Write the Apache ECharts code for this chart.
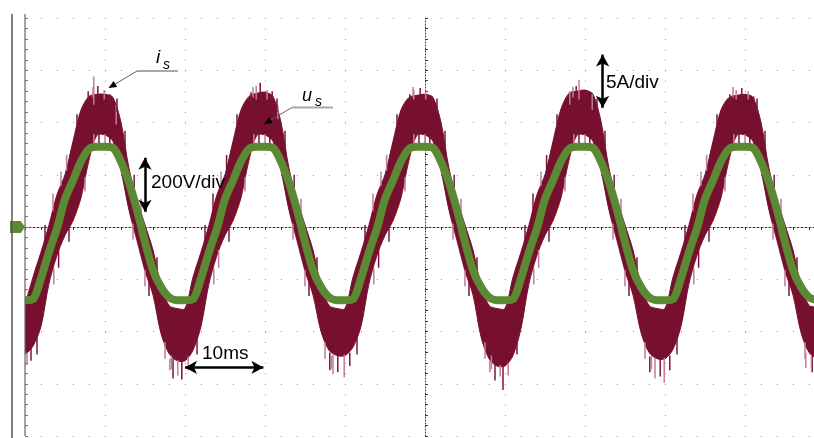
<!DOCTYPE html>
<html><head><meta charset="utf-8">
<script src="https://cdn.jsdelivr.net/npm/echarts@6/dist/echarts.min.js"></script>
<style>html,body{margin:0;padding:0;background:#fff}#c{width:814px;height:438px}</style>
</head><body><div id="c"></div>
<script>
// time of first sample (ms, relative to screen centre) and sample step
const timeStartMs = -50;
const sampleStepMs = 1;

// grid voltage u_s (V), one sample per ms
const voltageV = [
  -280,-276,-196,-96,-4,107,178,251,299,307,307,303,250,169,65,-58,-165,-230,-269,-280,
  -280,-276,-196,-96,-4,107,178,251,299,307,307,303,250,169,65,-58,-165,-230,-269,-280,
  -280,-276,-196,-96,-4,107,178,251,299,307,307,303,250,169,65,-58,-165,-230,-269,-280,
  -280,-276,-196,-96,-4,107,178,251,299,307,307,303,250,169,65,-58,-165,-230,-269,-280,
  -280,-276,-196,-96,-4,107,178,251,299,307,307,303,250,169,65,-58,-165,-230,-269,-280
];

// current i_s ripple band: upper and lower envelope (A), one sample per ms
const currentUpperA = [
  -7.8,-4.8,-2.4,0.2,3.1,5.0,8.2,11.2,12.5,12.7,12.7,12.4,10.0,5.6,2.6,0.2,-2.2,-5.6,-7.5,-7.8,
  -7.8,-4.8,-2.4,0.2,3.1,5.0,8.2,11.2,12.5,12.8,12.9,12.5,10.0,5.6,2.6,0.2,-2.2,-5.6,-7.5,-7.8,
  -7.8,-4.8,-2.4,0.2,3.1,5.0,8.2,11.2,12.4,12.6,12.7,12.4,10.0,5.6,2.6,0.2,-2.2,-5.6,-7.5,-7.8,
  -7.8,-4.8,-2.4,0.2,3.1,5.0,8.2,11.3,12.8,13.0,13.1,12.7,10.1,5.6,2.6,0.2,-2.2,-5.6,-7.5,-7.8,
  -7.8,-4.8,-2.4,0.2,3.1,5.0,8.2,11.2,12.4,12.6,12.7,12.4,10.0,5.6,2.6,0.2,-2.2,-5.6,-7.5,-7.8
];
const currentLowerA = [
  -12.1,-11.4,-9.5,-5.4,-2.7,-0.8,0.6,2.8,6.4,8.8,8.8,8.2,5.4,1.6,-1.3,-4.2,-6.5,-10.2,-12.1,-12.8,
  -12.8,-11.8,-9.5,-5.4,-2.7,-0.8,0.6,2.8,6.4,8.8,8.8,8.2,5.4,1.6,-1.3,-4.2,-6.5,-10.0,-11.8,-12.3,
  -12.3,-11.5,-9.5,-5.4,-2.7,-0.8,0.6,2.8,6.4,8.8,8.8,8.2,5.4,1.6,-1.3,-4.2,-6.5,-10.5,-12.6,-13.3,
  -13.3,-12.3,-9.7,-5.4,-2.7,-0.8,0.6,2.8,6.4,8.8,8.8,8.2,5.4,1.6,-1.3,-4.2,-6.5,-10.1,-12.0,-12.6,
  -12.6,-11.7,-9.5,-5.4,-2.7,-0.8,0.6,2.8,6.4,8.8,8.8,8.2,5.4,1.6,-1.3,-4.2,-6.5,-10.1,-12.0,-12.5
];

// individual ripple spikes of i_s: [time ms, from A, to A]
const currentSpikesA = [
  [-42.1,11.2,13.0],[-41.4,11.7,14.4],[-40.9,12.2,13.5],[-40.1,12.2,13.1],[-39.4,11.2,12.7],[-38.6,9.8,11.7],
  [-21.75,11.7,12.9],[-21.1,12.2,13.5],[-20.6,12.2,13.8],[-19.75,12.2,13.1],[-19.1,11.7,13.0],[-18.4,10.3,11.7],
  [-1.9,11.2,12.7],[-1.4,12.2,13.1],[-0.6,12.2,13.3],[0.1,12.2,13.0],[0.9,11.2,12.5],
  [18.1,11.7,13.0],[18.9,12.2,13.5],[19.25,12.2,14.1],[20.1,12.2,13.1],[20.9,11.2,12.7],
  [38.1,11.2,12.7],[38.9,12.2,13.1],[39.6,12.2,13.3],[40.4,12.2,13.0],[41.1,11.2,12.5],
  [-41.4,8.9,7.7],[-40.75,8.9,7.4],[-40.0,8.9,7.8],[-39.4,8.6,7.9],
  [-21.4,8.9,7.7],[-20.75,8.9,7.4],[-20.0,8.9,7.8],[-19.4,8.6,7.9],
  [-1.4,8.9,7.7],[-0.75,8.9,7.4],[0.0,8.9,7.8],[0.6,8.6,7.9],
  [18.6,8.9,7.7],[19.25,8.9,7.4],[20.0,8.9,7.8],[20.6,8.6,7.9],
  [38.6,8.9,7.7],[39.25,8.9,7.4],[40.0,8.9,7.8],[40.6,8.6,7.9],
  [-49.75,-12.0,-13.2],[-49.25,-11.6,-12.8],
  [-31.9,-12.6,-13.7],[-31.5,-12.6,-14.5],[-30.9,-12.7,-14.2],[-30.4,-12.7,-14.6],[-29.6,-12.4,-13.7],
  [-11.9,-12.0,-13.7],[-11.5,-12.2,-14.1],[-10.9,-12.2,-13.9],[-10.1,-12.2,-14.4],[-9.4,-12.0,-13.3],
  [8.1,-12.8,-13.9],[8.75,-13.1,-14.7],[9.4,-13.2,-14.3],[9.75,-13.2,-15.6],[10.4,-13.0,-14.2],
  [28.1,-12.4,-13.9],[28.75,-12.5,-14.5],[29.4,-12.5,-14.3],[29.9,-12.5,-14.9],[30.6,-12.3,-13.7],
  [47.6,-12.0,-13.5],[48.4,-12.3,-13.9],
  [-46.5,1.5,3.2],[-45.8,-2.2,-3.9],[-44.8,5.4,6.9],
  [-26.5,1.5,3.2],[-25.8,-2.2,-3.9],[-24.8,5.4,6.9],
  [-6.5,1.5,3.2],[-5.8,-2.2,-3.9],[-4.8,5.4,6.9],
  [13.5,1.5,3.2],[14.2,-2.2,-3.9],[15.2,5.4,6.9],
  [33.5,1.5,3.2],[34.2,-2.2,-3.9],[35.2,5.4,6.9],
  [-36.35,3.5,5.0],[-35.0,-4.1,-5.7],[-16.35,3.5,5.0],[-15.0,-4.1,-5.7],
  [3.65,3.5,5.0],[5.0,-4.1,-5.7],[23.65,3.5,5.0],[25.0,-4.1,-5.7],
  [43.65,3.5,5.0],[45.0,-4.1,-5.7],
  [-47.5,-1.2,0.2],[-46.4,-3.9,-5.5],[-43.5,9.5,10.8],[-42.5,4.8,3.4],[-37.5,7.6,9.2],[-36.5,0.3,-1.2],[-33.5,-4.3,-2.9],[-32.5,-11.0,-12.6],
  [-27.5,-1.2,0.2],[-26.4,-3.9,-5.5],[-23.5,9.5,10.8],[-22.5,4.8,3.4],[-17.5,7.6,9.2],[-16.5,0.3,-1.2],[-13.5,-4.3,-2.9],[-12.5,-11.0,-12.6],
  [-7.5,-1.2,0.2],[-6.4,-3.9,-5.5],[-3.5,9.5,10.8],[-2.5,4.8,3.4],[2.5,7.6,9.2],[3.5,0.3,-1.2],[6.5,-4.3,-2.9],[7.5,-11.0,-12.6],
  [12.5,-1.2,0.2],[13.6,-3.9,-5.5],[16.5,9.5,10.8],[17.5,4.8,3.4],[22.5,7.6,9.2],[23.5,0.3,-1.2],[26.5,-4.3,-2.9],[27.5,-11.0,-12.6],
  [32.5,-1.2,0.2],[33.6,-3.9,-5.5],[36.5,9.5,10.8],[37.5,4.8,3.4],[42.5,7.6,9.2],[43.5,0.3,-1.2],[46.5,-4.3,-2.9],[47.5,-11.0,-12.6],
  [-48.5,-10.5,-12.2],[-45.5,3.9,5.3],[-44.5,0.0,-1.4],[-41.5,12.4,13.4],[-38.5,11.0,12.3],[-35.5,1.3,2.7],[-34.5,-5.2,-6.6],[-31.7,-12.3,-13.6],
  [-28.5,-10.5,-12.2],[-25.5,3.9,5.3],[-24.5,0.0,-1.4],[-21.5,12.4,13.4],[-18.5,11.0,12.3],[-15.5,1.3,2.7],[-14.5,-5.2,-6.6],[-11.7,-12.3,-13.6],
  [-8.5,-10.5,-12.2],[-5.5,3.9,5.3],[-4.5,0.0,-1.4],[-1.5,12.4,13.4],[1.5,11.0,12.3],[4.5,1.3,2.7],[5.5,-5.2,-6.6],[8.3,-12.3,-13.6],
  [11.5,-10.5,-12.2],[14.5,3.9,5.3],[15.5,0.0,-1.4],[18.5,12.4,13.4],[21.5,11.0,12.3],[24.5,1.3,2.7],[25.5,-5.2,-6.6],[28.3,-12.3,-13.6],
  [31.5,-10.5,-12.2],[34.5,3.9,5.3],[35.5,0.0,-1.4],[38.5,12.4,13.4],[41.5,11.0,12.3],[44.5,1.3,2.7],[45.5,-5.2,-6.6],[48.3,-12.3,-13.6]
];

// scale annotations
const scaleLabels = ['200V/div', '5A/div', '10ms'];

const timesMs = voltageV.map((_, i) => timeStartMs + i * sampleStepMs);
const voltData = timesMs.map((t, i) => [t, voltageV[i]]);
const bandData = timesMs.map((t, i) => [t, currentLowerA[i], currentUpperA[i]]);

const RED = '#77102f', GREEN = '#5c8a34', FONT = 'Liberation Sans, Arial, sans-serif';
const dotGrey = '#8e8e8e', axisDark = '#3a3a3a';

const chart = echarts.init(document.getElementById('c'), null, {renderer: 'canvas'});

function hiddenY(extra) {
  return Object.assign({type: 'value', min: -20, max: 20, interval: 5,
    axisLabel: {show: false}, splitLine: {show: false}}, extra);
}

const option = {
  animation: false,
  backgroundColor: '#ffffff',
  grid: {left: 25, top: 18, width: 800, height: 418, containLabel: false, outerBoundsMode: 'none'},
  xAxis: [
    {type: 'value', min: -50, max: 50, interval: 10,
     axisLabel: {show: false},
     axisLine: {show: true, onZero: true, lineStyle: {color: axisDark, width: 1, type: [2, 2]}},
     axisTick: {show: true, inside: false, length: 3, lineStyle: {color: axisDark}},
     minorTick: {show: true, splitNumber: 5, length: 3, lineStyle: {color: axisDark}},
     splitLine: {show: true, lineStyle: {color: dotGrey, width: 1, type: [1, 9.45]}}},
    {type: 'value', min: -50, max: 50, interval: 10,
     axisLabel: {show: false},
     axisLine: {show: false, onZero: true},
     axisTick: {show: true, inside: true, length: 3, lineStyle: {color: axisDark}},
     minorTick: {show: true, splitNumber: 5, length: 3, lineStyle: {color: axisDark}},
     splitLine: {show: false}}
  ],
  yAxis: [
    hiddenY({axisLine: {show: true, onZero: true, lineStyle: {color: axisDark, width: 1, type: [1, 2]}},
      axisTick: {show: true, inside: true, length: 3, lineStyle: {color: axisDark}},
      minorTick: {show: true, splitNumber: 5, length: 3, lineStyle: {color: axisDark}},
      splitLine: {show: true, lineStyle: {color: dotGrey, width: 1, type: [1, 15]}}}),
    {type: 'value', min: -800, max: 800, interval: 200, show: false},
    hiddenY({axisLine: {show: false, onZero: true},
      axisTick: {show: true, inside: false, length: 3, lineStyle: {color: axisDark}},
      minorTick: {show: true, splitNumber: 5, length: 3, lineStyle: {color: axisDark}}}),
    hiddenY({position: 'left', axisLine: {show: false, onZero: false},
      axisTick: {show: true, inside: true, length: 3, lineStyle: {color: '#777'}},
      minorTick: {show: true, splitNumber: 5, length: 3, lineStyle: {color: '#777'}}})
  ],
  series: [
    {type: 'custom', name: 'is', data: bandData, xAxisIndex: 0, yAxisIndex: 0,
     encode: {x: 0, y: [1, 2]}, silent: true, z: 2, clip: true,
     renderItem: function (params, api) {
       if (params.dataIndex !== 0) return null;
       const pts = [];
       for (let i = 0; i < bandData.length; i++) pts.push(api.coord([bandData[i][0], bandData[i][2]]));
       for (let i = bandData.length - 1; i >= 0; i--) pts.push(api.coord([bandData[i][0], bandData[i][1]]));
       return {type: 'polygon', shape: {points: pts, smooth: 0.3},
         style: {fill: RED, stroke: RED, lineWidth: 1}};
     },
     markLine: {silent: true, symbol: ['arrow', 'arrow'], symbolSize: [10, 12],
       lineStyle: {color: '#000', width: 2.5, type: 'solid'}, label: {show: false},
       emphasis: {disabled: true},
       data: [
         [{coord: [-30, -13.44]}, {coord: [-20.2, -13.44]}],
         [{coord: [22.2, 16.5]}, {coord: [22.2, 11.4]}]
       ]}},
    {type: 'custom', name: 'is_spikes', data: currentSpikesA, xAxisIndex: 0, yAxisIndex: 0,
     encode: {x: 0, y: [1, 2]}, silent: true, z: 3, clip: true,
     renderItem: function (params, api) {
       const a = api.coord([api.value(0), api.value(1)]);
       const b = api.coord([api.value(0), api.value(2)]);
       return {type: 'line', shape: {x1: a[0], y1: a[1], x2: b[0], y2: b[1]},
         style: {stroke: params.dataIndex % 2 ? '#c27d93' : '#7d1434', lineWidth: 1.5}};
     }},
    {type: 'line', name: 'us', data: voltData, xAxisIndex: 0, yAxisIndex: 1,
     symbol: 'none', smooth: 0.3, silent: true, z: 4,
     lineStyle: {width: 8, color: GREEN},
     markPoint: {silent: true, symbol: 'path://M0,0 L10,0 L14,5 L10,10 L0,10 Z',
       symbolSize: [15, 12], symbolOffset: [-7.5, 0], itemStyle: {color: GREEN},
       label: {show: false}, data: [{coord: [-50, 0]}]},
     markLine: {silent: true, symbol: ['arrow', 'arrow'], symbolSize: [10, 12],
       lineStyle: {color: '#000', width: 2.5, type: 'solid'}, label: {show: false},
       emphasis: {disabled: true},
       data: [[{coord: [-35, 265]}, {coord: [-35, 58]}]]}}
  ],
  graphic: [
    {type: 'line', z: 100, shape: {x1: 12, y1: 14, x2: 12, y2: 438}, style: {stroke: '#555', lineWidth: 1.5}, silent: true},
    {type: 'line', z: 100, shape: {x1: 25, y1: 14, x2: 25, y2: 436}, style: {stroke: '#666', lineWidth: 1.2}, silent: true},
    {type: 'line', z: 100, shape: {x1: 137, y1: 71, x2: 178, y2: 71}, style: {stroke: '#a8a8a8', lineWidth: 2}, silent: true},
    {type: 'line', z: 100, shape: {x1: 137, y1: 71, x2: 115.4, y2: 83.9}, style: {stroke: '#606060', lineWidth: 1}, silent: true},
    {type: 'polygon', z: 100, shape: {points: [[108.5, 88], [117.2, 86.9], [113.6, 80.9]]}, style: {fill: '#000'}, silent: true},
    {type: 'text', z: 100, style: {text: 'i', x: 156, y: 58, font: 'italic 19px ' + FONT, fill: '#000', textVerticalAlign: 'middle', verticalAlign: 'middle'}, silent: true},
    {type: 'text', z: 100, style: {text: 's', x: 163, y: 65, font: 'italic 14px ' + FONT, fill: '#000', textVerticalAlign: 'middle', verticalAlign: 'middle'}, silent: true},
    {type: 'line', z: 100, shape: {x1: 292, y1: 107.5, x2: 333, y2: 107.5}, style: {stroke: '#a8a8a8', lineWidth: 2}, silent: true},
    {type: 'line', z: 100, shape: {x1: 292, y1: 107.5, x2: 270.9, y2: 119.9}, style: {stroke: '#606060', lineWidth: 1}, silent: true},
    {type: 'polygon', z: 100, shape: {points: [[264, 124], [272.7, 122.9], [269.1, 116.9]]}, style: {fill: '#000'}, silent: true},
    {type: 'text', z: 100, style: {text: 'u', x: 302, y: 96, font: 'italic 18px ' + FONT, fill: '#000', textVerticalAlign: 'middle', verticalAlign: 'middle'}, silent: true},
    {type: 'text', z: 100, style: {text: 's', x: 315, y: 102, font: 'italic 14px ' + FONT, fill: '#000', textVerticalAlign: 'middle', verticalAlign: 'middle'}, silent: true},
    {type: 'text', z: 100, style: {text: scaleLabels[0], x: 151, y: 183, font: '19px ' + FONT, fill: '#000', textVerticalAlign: 'middle', verticalAlign: 'middle'}, silent: true},
    {type: 'text', z: 100, style: {text: scaleLabels[1], x: 606, y: 83, font: '19px ' + FONT, fill: '#000', textVerticalAlign: 'middle', verticalAlign: 'middle'}, silent: true},
    {type: 'text', z: 100, style: {text: scaleLabels[2], x: 202, y: 354, font: '19px ' + FONT, fill: '#000', textVerticalAlign: 'middle', verticalAlign: 'middle'}, silent: true}
  ]
};
chart.setOption(option);
</script>
</body></html>
